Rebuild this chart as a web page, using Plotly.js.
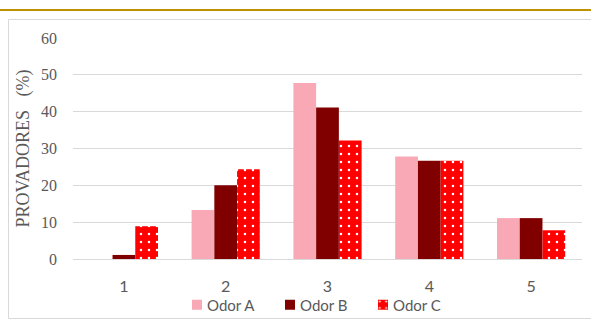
<!DOCTYPE html>
<html>
<head>
<meta charset="utf-8">
<script src="https://cdn.plot.ly/plotly-3.0.1.min.js"></script>
<style>
  html, body { margin: 0; padding: 0; background: #ffffff; }
  #chart { width: 591px; height: 320px; }
</style>
</head>
<body>
<div id="chart"></div>
<script>
// Scores on the 1–5 scale and the share of panelists (%) giving each score
const scores = ['1', '2', '3', '4', '5'];
const odorA = [0, 13.3, 47.8, 27.8, 11.1];
const odorB = [1.1, 20.0, 41.1, 26.7, 11.1];
const odorC = [8.9, 24.4, 32.2, 26.7, 7.8];
const seriesNames = ['Odor A', 'Odor B', 'Odor C'];
const yTitle = 'PROVADORES&nbsp;&nbsp;&nbsp;(%)';

const grey = '#595959';
const sans = 'Lato, "Open Sans", sans-serif';
const serif = '"Liberation Serif", "DejaVu Serif", serif';

const traces = [
  {
    type: 'bar', name: seriesNames[0], x: scores, y: odorA,
    marker: { color: '#F9A9B5', line: { width: 0 } },
    hoverinfo: 'skip'
  },
  {
    type: 'bar', name: seriesNames[1], x: scores, y: odorB,
    marker: { color: '#800000', line: { width: 0 } },
    hoverinfo: 'skip'
  },
  {
    type: 'bar', name: seriesNames[2], x: scores, y: odorC,
    marker: {
      color: '#FF0000',
      line: { width: 0 },
      pattern: { shape: '.', bgcolor: '#FF0000', fgcolor: '#FFFFFF', size: 8, solidity: 0.08 }
    },
    hoverinfo: 'skip'
  }
];

// plot area spans x 73..582, y 38..259 (px)
const L = 73, R = 582, T = 38, B = 259;
const px = v => (v - L) / (R - L);
const py = v => (B - v) / (B - T);

const layout = {
  width: 591, height: 320,
  margin: { l: L, r: 591 - R, t: T, b: 320 - B, pad: 0, autoexpand: false },
  paper_bgcolor: '#ffffff',
  plot_bgcolor: '#ffffff',
  barmode: 'group',
  bargap: 0.33,
  bargroupgap: 0,
  showlegend: true,
  legend: {
    orientation: 'h',
    x: px(176), xanchor: 'left',
    y: py(305), yanchor: 'middle',
    font: { family: sans, size: 15, color: grey },
    entrywidth: 48, entrywidthmode: 'pixels',
    itemwidth: 30,
    tracegroupgap: 0,
    bgcolor: 'rgba(0,0,0,0)'
  },
  xaxis: {
    type: 'category',
    showgrid: false,
    showline: false,
    zeroline: false,
    ticks: '',
    ticklabelstandoff: 16,
    tickfont: { family: sans, size: 16, color: grey },
    fixedrange: true
  },
  yaxis: {
    range: [0, 60],
    dtick: 10,
    showgrid: true,
    gridcolor: '#D9D9D9',
    gridwidth: 1,
    zeroline: true,
    zerolinecolor: '#D9D9D9',
    zerolinewidth: 1,
    showline: false,
    ticks: '',
    ticklabelstandoff: 15,
    tickfont: { family: serif, size: 16, color: grey },
    title: {
      text: yTitle,
      font: { family: serif, size: 18, color: grey },
      standoff: 6
    },
    fixedrange: true
  },
  shapes: [
    // outer frame of the chart area
    {
      type: 'rect', xref: 'paper', yref: 'paper', layer: 'below',
      x0: px(8.5), x1: px(600), y0: py(318.5), y1: py(19.5),
      line: { color: '#D9D9D9', width: 1 }, fillcolor: 'rgba(0,0,0,0)'
    },
    // gold rule across the top
    {
      type: 'line', xref: 'paper', yref: 'paper',
      x0: px(0), x1: px(591), y0: py(10), y1: py(10),
      line: { color: '#C09100', width: 2 }
    }
  ]
};

Plotly.newPlot('chart', traces, layout, { displayModeBar: false, staticPlot: true }).then(gd => {
  // smaller legend swatches, sitting closer to their labels
  gd.querySelectorAll('.legend .legendpoints path').forEach(p => {
    p.setAttribute('d', 'M5,5H-5V-5H5Z');
    p.setAttribute('transform', 'translate(21,0)');
  });
  gd.querySelectorAll('.legend text.legendtext').forEach(t => {
    const x = parseFloat(t.getAttribute('x')) || 0;
    t.setAttribute('x', x - 9);
  });
});
</script>
</body>
</html>
